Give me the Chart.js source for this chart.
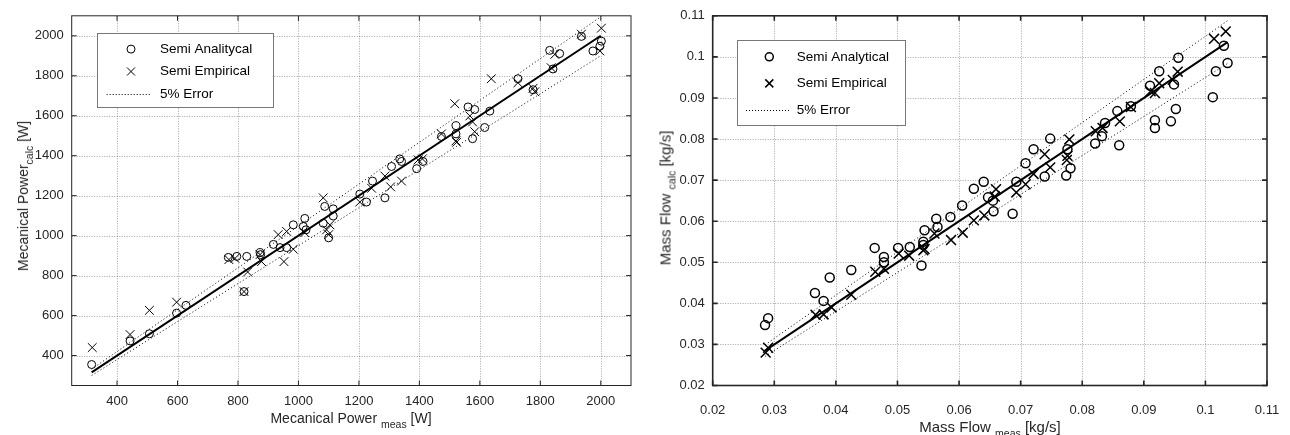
<!DOCTYPE html>
<html><head><meta charset="utf-8">
<script src="https://cdn.jsdelivr.net/npm/chart.js@4"></script>
<style>
body{margin:0;background:#fff;width:1290px;height:435px;position:relative;overflow:hidden;font-family:'Liberation Sans',Arial,sans-serif;color:#262626}
.t{position:absolute;white-space:nowrap;line-height:1;transform:translate(-50%,-50%)}
.t span{font-size:10.5px;position:relative;top:5px}
.r{transform:translate(-50%,-50%) rotate(-90deg)}
canvas{position:absolute;top:0}
</style></head><body>
<canvas id="c1" width="645" height="435" style="left:0"></canvas>
<canvas id="c2" width="645" height="435" style="left:645px"></canvas>
<div class="t" style="left:351px;top:418px;font-size:14px">Mecanical Power <span>meas</span> [W]</div>
<div class="t r" style="left:23px;top:196px;font-size:14px">Mecanical Power<span>calc</span> [W]</div>
<div class="t" style="left:990px;top:426px;font-size:15px">Mass Flow <span>meas</span> [kg/s]</div>
<div class="t r" style="left:665px;top:198px;font-size:15px">Mass Flow <span>calc</span> [kg/s]</div>
<script>
// ---------- Data: Mechanical power [W] ----------
const powerTicks = [400, 600, 800, 1000, 1200, 1400, 1600, 1800, 2000];
const powerTickLabels = ['400','600','800','1000','1200','1400','1600','1800','2000'];
const powerAnalyticalMeas = [316,443,507,597,628,820,768,796,829,873,875,917,939,961,983,1016,1021,1025,1082,1087,1100,1115,1115,1203,1225,1245,1286,1308,1335,1341,1391,1412,1473,1521,1521,1561,1576,1583,1616,1633,1726,1776,1831,1842,1864,1936,1974,1997,2002];
const powerAnalyticalCalc = [355,473,509,612,651,720,891,896,896,915,905,956,940,940,1054,1046,1086,1029,1062,1146,989,1134,1098,1208,1168,1273,1189,1346,1384,1371,1335,1371,1496,1550,1509,1644,1485,1631,1541,1623,1785,1730,1927,1834,1911,1997,1924,1948,1973];
const powerEmpiricalMeas = [318,443,507,597,820,770,790,832,873,878,933,952,961,983,1021,1082,1093,1100,1104,1203,1242,1286,1305,1341,1396,1410,1473,1517,1521,1523,1567,1576,1583,1638,1726,1776,1782,1836,1848,1936,1997,2002];
const powerEmpiricalCalc = [440,505,626,667,720,880,886,818,905,870,1005,870,1021,932,1015,1189,1029,1005,1054,1168,1237,1298,1244,1273,1379,1384,1509,1660,1474,1467,1599,1569,1520,1785,1765,1737,1720,1840,1907,2008,1924,2038];
const powerRefX = [316, 2000];
const powerRefY = [316, 2000];
const powerUpperY = [332, 2095];
const powerLowerY = [300, 1900];

// ---------- Data: Mass flow [kg/s] ----------
const flowTicks = [0.02,0.03,0.04,0.05,0.06,0.07,0.08,0.09,0.1,0.11];
const flowTickLabels = ['0.02','0.03','0.04','0.05','0.06','0.07','0.08','0.09','0.1','0.11'];
const flowAnalyticalMeas = [0.0285,0.0290,0.0366,0.0380,0.0390,0.0425,0.0463,0.0478,0.0478,0.0501,0.0520,0.0539,0.0542,0.0542,0.0544,0.0563,0.0565,0.0586,0.0605,0.0624,0.0640,0.0647,0.0655,0.0656,0.0687,0.0693,0.0708,0.0721,0.0748,0.0739,0.0774,0.0781,0.0776,0.0821,0.0832,0.0837,0.0857,0.0860,0.0879,0.0910,0.0925,0.0918,0.0918,0.0944,0.0952,0.0949,0.0956,0.1012,0.1017,0.1036,0.1030];
const flowAnalyticalCalc = [0.0347,0.0364,0.0425,0.0406,0.0463,0.0481,0.0535,0.0513,0.0500,0.0535,0.0537,0.0492,0.0550,0.0542,0.0578,0.0606,0.0586,0.0610,0.0638,0.0679,0.0696,0.0658,0.0650,0.0624,0.0618,0.0696,0.0741,0.0775,0.0801,0.0709,0.0711,0.0729,0.0775,0.0789,0.0807,0.0839,0.0868,0.0785,0.0880,0.0930,0.0965,0.0827,0.0846,0.0843,0.0873,0.0933,0.0998,0.0902,0.0965,0.0985,0.1027];
const flowEmpiricalMeas = [0.0286,0.0290,0.0367,0.0380,0.0393,0.0425,0.0464,0.0478,0.0502,0.0519,0.0542,0.0544,0.0560,0.0587,0.0606,0.0624,0.0641,0.0658,0.0660,0.0693,0.0708,0.0721,0.0739,0.0748,0.0779,0.0776,0.0775,0.0822,0.0833,0.0861,0.0879,0.0911,0.0918,0.0925,0.0947,0.0955,0.1014,0.1033];
const flowEmpiricalCalc = [0.0280,0.0292,0.0372,0.0373,0.0390,0.0421,0.0477,0.0484,0.0521,0.0516,0.0529,0.0532,0.0570,0.0554,0.0572,0.0602,0.0614,0.0660,0.0678,0.0670,0.0690,0.0715,0.0763,0.0731,0.0799,0.0759,0.0749,0.0819,0.0827,0.0843,0.0878,0.0916,0.0912,0.0936,0.0944,0.0964,0.1044,0.1062];
const flowRefX = [0.0285, 0.1036];
const flowRefY = [0.0285, 0.1036];
const flowUpperY = [0.0299, 0.1088];
const flowLowerY = [0.0271, 0.0984];

const legendLabels1 = ['Semi Analitycal', 'Semi Empirical', '5% Error'];
const legendLabels2 = ['Semi Analytical', 'Semi Empirical', '5% Error'];

Chart.defaults.font.family = "'Liberation Sans', Arial, sans-serif";
const pts = (xs, ys) => xs.map((x, i) => ({x, y: ys[i]}));

const framePlugin = {
  id: 'frame',
  beforeDatasetsDraw(chart, args, o) {
    const {ctx, chartArea: a, scales: {x, y}} = chart;
    ctx.save();
    ctx.strokeStyle = o.gridColor; ctx.lineWidth = 1; ctx.setLineDash([1, 1.5]);
    for (const t of x.ticks) {
      const px = Math.round(x.getPixelForValue(t.value)) + 0.5;
      if (px - a.left < 2 || a.right - px < 2) continue;
      ctx.beginPath(); ctx.moveTo(px, a.top); ctx.lineTo(px, a.bottom); ctx.stroke();
    }
    for (const t of y.ticks) {
      const py = Math.round(y.getPixelForValue(t.value)) + 0.5;
      if (py - a.top < 2 || a.bottom - py < 2) continue;
      ctx.beginPath(); ctx.moveTo(a.left, py); ctx.lineTo(a.right, py); ctx.stroke();
    }
    ctx.restore();
  },
  afterDatasetsDraw(chart, args, o) {
    const {ctx, chartArea: a, scales: {x, y}} = chart;
    ctx.save();
    ctx.strokeStyle = '#262626'; ctx.lineWidth = o.borderWidth; ctx.setLineDash([]);
    const L = o.tickLen;
    ctx.beginPath();
    for (const t of x.ticks) {
      const px = x.getPixelForValue(t.value);
      ctx.moveTo(px, a.bottom); ctx.lineTo(px, a.bottom - L);
      ctx.moveTo(px, a.top); ctx.lineTo(px, a.top + L);
    }
    for (const t of y.ticks) {
      const py = y.getPixelForValue(t.value);
      ctx.moveTo(a.left, py); ctx.lineTo(a.left + L, py);
      ctx.moveTo(a.right, py); ctx.lineTo(a.right - L, py);
    }
    ctx.stroke();
    ctx.strokeRect(a.left, a.top, a.right - a.left, a.bottom - a.top);
    // legend
    const g = o.legend;
    const bx = a.left + g.dx, by = a.top + g.dy;
    ctx.fillStyle = '#fff'; ctx.fillRect(bx, by, g.w, g.h);
    ctx.strokeStyle = '#777'; ctx.lineWidth = 1; ctx.strokeRect(Math.round(bx) + 0.5, Math.round(by) + 0.5, g.w, g.h);
    ctx.strokeStyle = '#000'; ctx.lineWidth = g.mw;
    const r0 = by + g.rows[0], r1 = by + g.rows[1], r2 = by + g.rows[2];
    ctx.beginPath(); ctx.arc(bx + g.mx, r0, g.cr, 0, Math.PI * 2); ctx.stroke();
    const c = g.xr;
    ctx.beginPath();
    ctx.moveTo(bx + g.mx - c, r1 - c); ctx.lineTo(bx + g.mx + c, r1 + c);
    ctx.moveTo(bx + g.mx + c, r1 - c); ctx.lineTo(bx + g.mx - c, r1 + c);
    ctx.stroke();
    ctx.lineWidth = 1; ctx.setLineDash([1, 2]);
    ctx.beginPath(); ctx.moveTo(bx + g.l0, Math.round(r2) + 0.5); ctx.lineTo(bx + g.l1, Math.round(r2) + 0.5); ctx.stroke();
    ctx.setLineDash([]);
    ctx.fillStyle = '#000'; ctx.font = g.font; ctx.textBaseline = 'middle'; ctx.textAlign = 'left';
    g.labels.forEach((s, i) => ctx.fillText(s, bx + g.tx, by + g.rows[i]));
    ctx.restore();
  }
};

function makeChart(id, cfg) {
  return new Chart(document.getElementById(id), {
    type: 'scatter',
    data: {
      datasets: [
        {data: pts(cfg.ax, cfg.ay), pointStyle: 'circle', pointRadius: cfg.cr, borderColor: '#000', backgroundColor: 'rgba(0,0,0,0)', pointBorderWidth: cfg.mw, showLine: false},
        {data: pts(cfg.ex, cfg.ey), pointStyle: 'crossRot', pointRadius: cfg.xr, borderColor: '#000', backgroundColor: 'rgba(0,0,0,0)', pointBorderWidth: cfg.mw, showLine: false},
        {data: pts(cfg.refX, cfg.refY), showLine: true, borderColor: '#000', borderWidth: 2, pointRadius: 0, fill: false},
        {data: pts(cfg.refX, cfg.upY), showLine: true, borderColor: '#000', borderWidth: 1, borderDash: [1, 2.5], pointRadius: 0, fill: false},
        {data: pts(cfg.refX, cfg.loY), showLine: true, borderColor: '#000', borderWidth: 1, borderDash: [1, 2.5], pointRadius: 0, fill: false}
      ]
    },
    options: {
      responsive: false, animation: false, events: [],
      layout: {padding: cfg.pad},
      plugins: {legend: {display: false}, tooltip: {enabled: false},
        frame: {gridColor: 'rgba(90,90,90,0.55)', borderWidth: cfg.bw, tickLen: 5, legend: cfg.legend}},
      scales: {
        x: {type: 'linear', min: cfg.min, max: cfg.max,
          afterBuildTicks: s => { s.ticks = cfg.ticks.map(v => ({value: v})); },
          afterFit: s => { s.height = cfg.xh; },
          grid: {display: false, drawTicks: cfg.xtl > 0, tickLength: cfg.xtl}, border: {display: false},
          ticks: {padding: 8, color: '#262626', font: {size: 13}, maxRotation: 0, autoSkip: false, callback: (v, i) => cfg.labels[i]}},
        y: {type: 'linear', min: cfg.min, max: cfg.max,
          afterBuildTicks: s => { s.ticks = cfg.ticks.map(v => ({value: v})); },
          afterFit: s => { s.width = cfg.yw; },
          grid: {display: false, drawTicks: false}, border: {display: false},
          ticks: {padding: 8, color: '#262626', font: {size: 13}, autoSkip: false, callback: (v, i) => cfg.labels[i]}}
      }
    },
    plugins: [framePlugin]
  });
}

makeChart('c1', {
  ax: powerAnalyticalMeas, ay: powerAnalyticalCalc, ex: powerEmpiricalMeas, ey: powerEmpiricalCalc,
  refX: powerRefX, refY: powerRefY, upY: powerUpperY, loY: powerLowerY,
  ticks: powerTicks, labels: powerTickLabels, min: 250, max: 2100,
  cr: 4, xr: 6.2, mw: 1, bw: 1, xh: 49.5, yw: 71.7, xtl: 0,
  pad: {top: 6, right: 14, left: 0, bottom: 0},
  legend: {dx: 25, dy: 17.3, w: 176, h: 74, mx: 34.3, tx: 63.3, rows: [16, 38.4, 60.7], l0: 10, l1: 54, cr: 4, xr: 4, mw: 1, font: '13.5px "Liberation Sans", Arial, sans-serif', labels: legendLabels1}
});

makeChart('c2', {
  ax: flowAnalyticalMeas, ay: flowAnalyticalCalc, ex: flowEmpiricalMeas, ey: flowEmpiricalCalc,
  refX: flowRefX, refY: flowRefY, upY: flowUpperY, loY: flowLowerY,
  ticks: flowTicks, labels: flowTickLabels, min: 0.02, max: 0.11,
  cr: 4.5, xr: 7, mw: 1.5, bw: 1.6, xh: 49.5, yw: 67.7, xtl: 9,
  pad: {top: 11.7, right: 23, left: 0, bottom: 0},
  legend: {dx: 24, dy: 24.3, w: 168, h: 85, mx: 32.6, tx: 60, rows: [16.7, 43.3, 70], l0: 9.3, l1: 52.3, cr: 4, xr: 4, mw: 1.5, font: '13.5px "Liberation Sans", Arial, sans-serif', labels: legendLabels2}
});
</script>
</body></html>
